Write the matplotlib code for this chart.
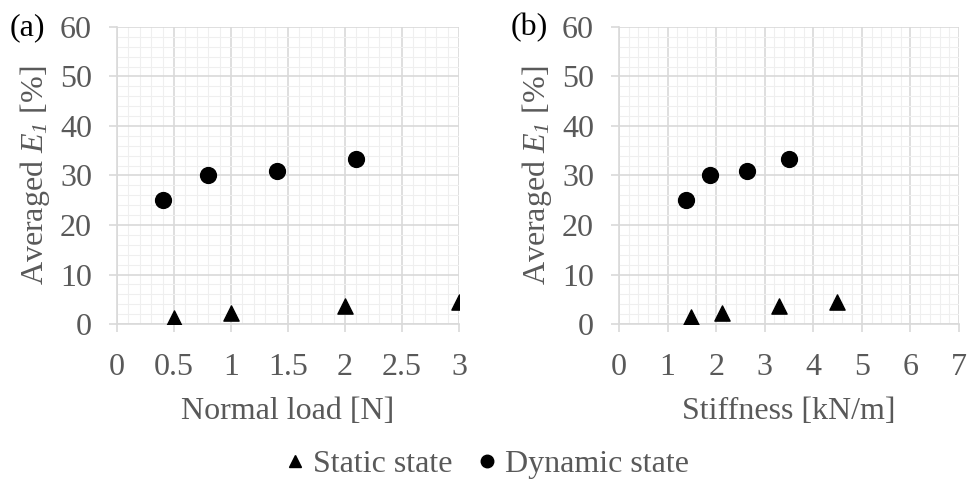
import numpy as np
import matplotlib
matplotlib.use("Agg")
import matplotlib.pyplot as plt
from matplotlib.ticker import MultipleLocator, FormatStrFormatter
from matplotlib.lines import Line2D

# Data
load_static = [0.5, 1.0, 2.0, 3.0]
e1_static_a = [1.3, 2.3, 3.6, 4.5]
load_dynamic = [0.4, 0.8, 1.4, 2.1]
e1_dynamic_a = [25.0, 30.1, 31.0, 33.3]

stiff_static = [1.48, 2.13, 3.29, 4.49]
e1_static_b = [1.4, 2.2, 3.6, 4.5]
stiff_dynamic = [1.38, 1.87, 2.63, 3.50]
e1_dynamic_b = [25.0, 30.1, 31.0, 33.3]

plt.rcParams["font.family"] = "Liberation Serif"
plt.rcParams["mathtext.fontset"] = "custom"
plt.rcParams["mathtext.rm"] = "Liberation Serif"
plt.rcParams["mathtext.it"] = "Liberation Serif:italic"
plt.rcParams["mathtext.sf"] = "Liberation Serif:italic"  # used for the italic subscript digit

gray_text = "#595959"
major_grid = "#d9d9d9"
minor_grid = "#efefef"
fs = 23

fig = plt.figure(figsize=(9.68, 4.8), dpi=100)
ax_a = fig.add_axes([0.1209, 0.325, 0.3533, 0.61875])
ax_b = fig.add_axes([0.6395, 0.325, 0.3512, 0.61875])


def style_axis(ax, xmax, xmajor, xminor, xlabel):
    ax.set_xlim(0, xmax)
    ax.set_ylim(0, 60)
    ax.xaxis.set_major_locator(MultipleLocator(xmajor))
    ax.xaxis.set_minor_locator(MultipleLocator(xminor))
    ax.xaxis.set_major_formatter(FormatStrFormatter("%g"))
    ax.yaxis.set_major_locator(MultipleLocator(10))
    ax.yaxis.set_minor_locator(MultipleLocator(2))
    ax.grid(which="major", color=major_grid, linewidth=1.2, zorder=0)
    ax.grid(which="minor", color=minor_grid, linewidth=0.8, zorder=0)
    ax.set_axisbelow(True)
    for side in ["top", "right"]:
        ax.spines[side].set_visible(False)
    for side in ["left", "bottom"]:
        ax.spines[side].set_color(major_grid)
        ax.spines[side].set_linewidth(1.2)
    ax.tick_params(which="major", direction="out", length=6, width=1.2,
                   color=major_grid, labelcolor=gray_text, labelsize=fs)
    ax.tick_params(axis="y", which="major", pad=12)
    ax.tick_params(axis="x", which="major", pad=15)
    ax.tick_params(which="minor", length=0)
    ax.set_xlabel(xlabel, fontsize=fs, color=gray_text, labelpad=11)
    ax.set_ylabel(r"Averaged $E_{\mathsf{1}}$ [%]", fontsize=fs, color=gray_text, labelpad=6)


ax_a.scatter(load_static, e1_static_a, marker="^", s=120, color="black", zorder=3)
ax_a.scatter(load_dynamic, e1_dynamic_a, marker="o", s=130, color="black", zorder=3)
style_axis(ax_a, 3, 0.5, 0.1, "Normal load [N]")

ax_b.scatter(stiff_static, e1_static_b, marker="^", s=120, color="black", zorder=3)
ax_b.scatter(stiff_dynamic, e1_dynamic_b, marker="o", s=130, color="black", zorder=3)
style_axis(ax_b, 7, 1, 0.2, "Stiffness [kN/m]")

fig.text(0.010, 0.943, "(a)", fontsize=fs, color="black", va="center")
fig.text(0.527, 0.943, "(b)", fontsize=fs, color="black", va="center")

handles = [
    Line2D([], [], marker="^", linestyle="none", color="black", markersize=9),
    Line2D([], [], marker="o", linestyle="none", color="black", markersize=9),
]
leg = fig.legend(handles, ["Static state", "Dynamic state"], loc="center",
                 bbox_to_anchor=(0.5, 1 - 464 / 480), ncol=2, frameon=False,
                 fontsize=fs, handletextpad=0.05, columnspacing=0.6, handlelength=1.0)
for t in leg.get_texts():
    t.set_color(gray_text)

fig.savefig("out.png", dpi=100)
